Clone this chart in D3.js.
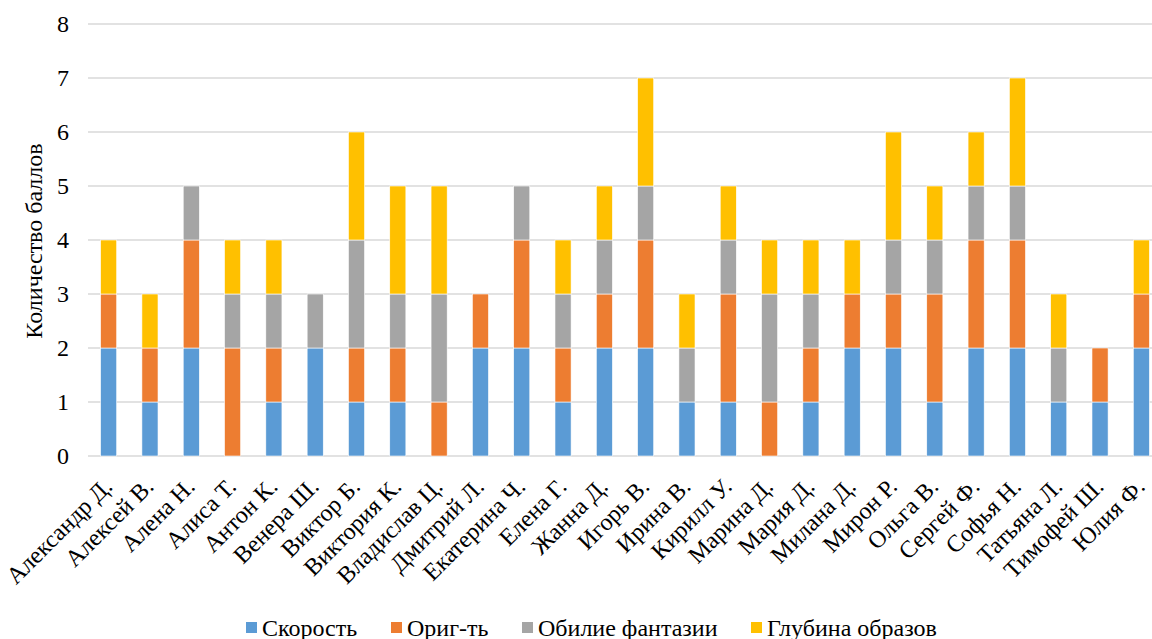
<!DOCTYPE html>
<html><head><meta charset="utf-8">
<script src="https://cdn.jsdelivr.net/npm/d3@7"></script>
</head><body style="margin:0">
<svg id="c" width="1152" height="639"></svg>
<script>
const categories = ["Александр Д.","Алексей В.","Алена Н.","Алиса Т.","Антон К.","Венера Ш.","Виктор Б.","Виктория К.","Владислав Ц.","Дмитрий Л.","Екатерина Ч.","Елена Г.","Жанна Д.","Игорь В.","Ирина В.","Кирилл У.","Марина Д.","Мария Д.","Милана Д.","Мирон Р.","Ольга В.","Сергей Ф.","Софья Н.","Татьяна Л.","Тимофей Ш.","Юлия Ф."];
const seriesNames = ["Скорость","Ориг-ть","Обилие фантазии","Глубина образов"];
const speed    = [2,1,2,0,1,2,1,1,0,2,2,1,2,2,1,1,0,1,2,2,1,2,2,1,1,2];
const orig     = [1,1,2,2,1,0,1,1,1,1,2,1,1,2,0,2,1,1,1,1,2,2,2,0,1,1];
const fantasy  = [0,0,1,1,1,1,2,1,2,0,1,1,1,1,1,1,2,1,0,1,1,1,1,1,0,0];
const depth    = [1,1,0,1,1,0,2,2,2,0,0,1,1,2,1,1,1,1,1,2,1,1,2,1,0,1];
const yTicks = [0,1,2,3,4,5,6,7,8];
const colors = ["#5B9BD5","#ED7D31","#A5A5A5","#FFC000"];
const yTitle = "Количество баллов";

const FF = '"Liberation Serif"';
const fs = 24;
const svg = d3.select("#c").style("display","block").style("font-family",FF);
const m = {l:88, r:1162, t:24, b:456};

const x = d3.scaleBand().domain(categories).range([m.l, m.r]).paddingInner(0.61).paddingOuter(0.305);
const y = d3.scaleLinear().domain([0,8]).range([m.b, m.t]);

const rows = categories.map((c,i)=>({cat:c, s0:speed[i], s1:orig[i], s2:fantasy[i], s3:depth[i]}));
const stack = d3.stack().keys(["s0","s1","s2","s3"])(rows);

svg.append("g").selectAll("line").data(yTicks).join("line")
  .attr("x1", m.l).attr("x2", m.r)
  .attr("y1", d=>y(d)).attr("y2", d=>y(d))
  .attr("stroke","#d9d9d9").attr("stroke-width",1.5);

svg.selectAll("text.ytick").data(yTicks).join("text").attr("class","ytick")
  .attr("x", 69).attr("y", d=>y(d)).attr("dy","0.35em")
  .attr("text-anchor","end").attr("font-size",fs).style("font-family",FF).text(d=>d);

svg.append("g").selectAll("g").data(stack).join("g")
  .attr("fill",(d,i)=>colors[i])
  .selectAll("rect").data(d=>d.filter(p=>p[1]>p[0])).join("rect")
  .attr("x", d=>x(d.data.cat)).attr("width", x.bandwidth())
  .attr("y", d=>y(d[1])).attr("height", d=>y(d[0])-y(d[1]))
  .attr("stroke","#fff").attr("stroke-width",0.6);

svg.selectAll("text.xlab").data(categories).join("text").attr("class","xlab")
  .attr("transform", d=>`translate(${x(d)+x.bandwidth()/2+5},${488}) rotate(-45)`)
  .attr("text-anchor","end")
  .attr("font-size",fs).style("font-family",FF).text(d=>d);

svg.append("text").attr("transform",`translate(34,${241}) rotate(-90)`)
  .attr("text-anchor","middle").attr("dy","0.35em")
  .attr("font-size",fs).style("font-family",FF).text(yTitle);

const legX = [246, 391, 522, 751];
seriesNames.forEach((s,i)=>{
  svg.append("rect").attr("x",legX[i]).attr("y",622).attr("width",11).attr("height",11).attr("fill",colors[i]);
  svg.append("text").attr("x",legX[i]+16).attr("y",628).attr("dy","0.35em").attr("font-size",fs).style("font-family",FF).text(s);
});
</script>
</body></html>
